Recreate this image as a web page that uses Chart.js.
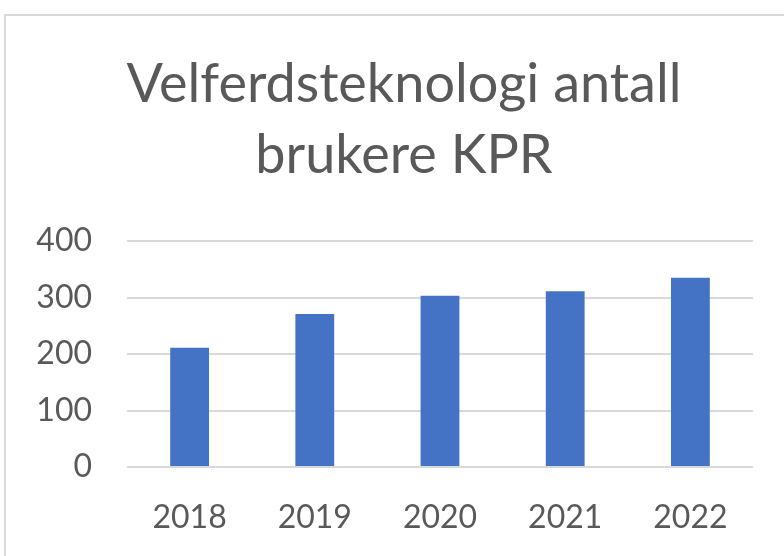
<!DOCTYPE html>
<html>
<head>
<meta charset="utf-8">
<script src="https://cdn.jsdelivr.net/npm/chart.js@4/dist/chart.umd.min.js"></script>
<style>
  html, body { margin: 0; padding: 0; background: #fff; overflow: hidden; }
  #wrap { position: relative; width: 784px; height: 556px; }
  #frame { position: absolute; left: 4px; top: 14px; width: 900px; height: 700px; border: 2px solid #d9d9d9; box-sizing: border-box; }
  canvas { position: absolute; left: 0; top: 0; }
</style>
</head>
<body>
<div id="wrap">
  <div id="frame"></div>
  <canvas id="c" width="784" height="556"></canvas>
</div>
<script>
const titleLines = ["Velferdsteknologi antall", "brukere KPR"];
const categories = ["2018", "2019", "2020", "2021", "2022"];
const users = [211, 271, 303, 311, 335];
const yTicks = [0, 100, 200, 300, 400];

const textColor = "#595959";
const fontFamily = "Lato, 'Open Sans', sans-serif";

// Title drawn centred over the whole framed chart (the frame, not the plot area)
const titlePlugin = {
  id: "frameTitle",
  afterDraw(chart) {
    const ctx = chart.ctx;
    ctx.save();
    ctx.fillStyle = textColor;
    ctx.font = "54px " + fontFamily;
    ctx.textAlign = "center";
    ctx.textBaseline = "alphabetic";
    const cx = 404;
    const baselines = [102, 173];
    titleLines.forEach((t, i) => ctx.fillText(t, cx, baselines[i]));
    ctx.restore();
  }
};

new Chart(document.getElementById("c"), {
  type: "bar",
  data: {
    labels: categories,
    datasets: [{
      data: users,
      backgroundColor: "#4472C4",
      borderWidth: 0,
      categoryPercentage: 1.0,
      barPercentage: 0.31
    }]
  },
  options: {
    responsive: false,
    animation: false,
    devicePixelRatio: 1,
    layout: { padding: { left: 0, right: 31, top: 241, bottom: 0 } },
    plugins: {
      legend: { display: false },
      tooltip: { enabled: false },
      title: { display: false }
    },
    scales: {
      x: {
        grid: { display: false, drawTicks: false },
        border: { display: false },
        ticks: { color: textColor, font: { family: fontFamily, size: 32 }, padding: 31 },
        afterFit: (s) => { s.height = 89; }
      },
      y: {
        min: 0, max: 400,
        afterBuildTicks: (s) => { s.ticks = yTicks.map(v => ({ value: v })); },
        grid: { color: "#d9d9d9", lineWidth: 2, drawTicks: false },
        border: { display: false },
        ticks: { color: textColor, font: { family: fontFamily, size: 32 }, padding: 35 },
        afterFit: (s) => { s.width = 127; }
      }
    }
  },
  plugins: [titlePlugin]
});
</script>
</body>
</html>
